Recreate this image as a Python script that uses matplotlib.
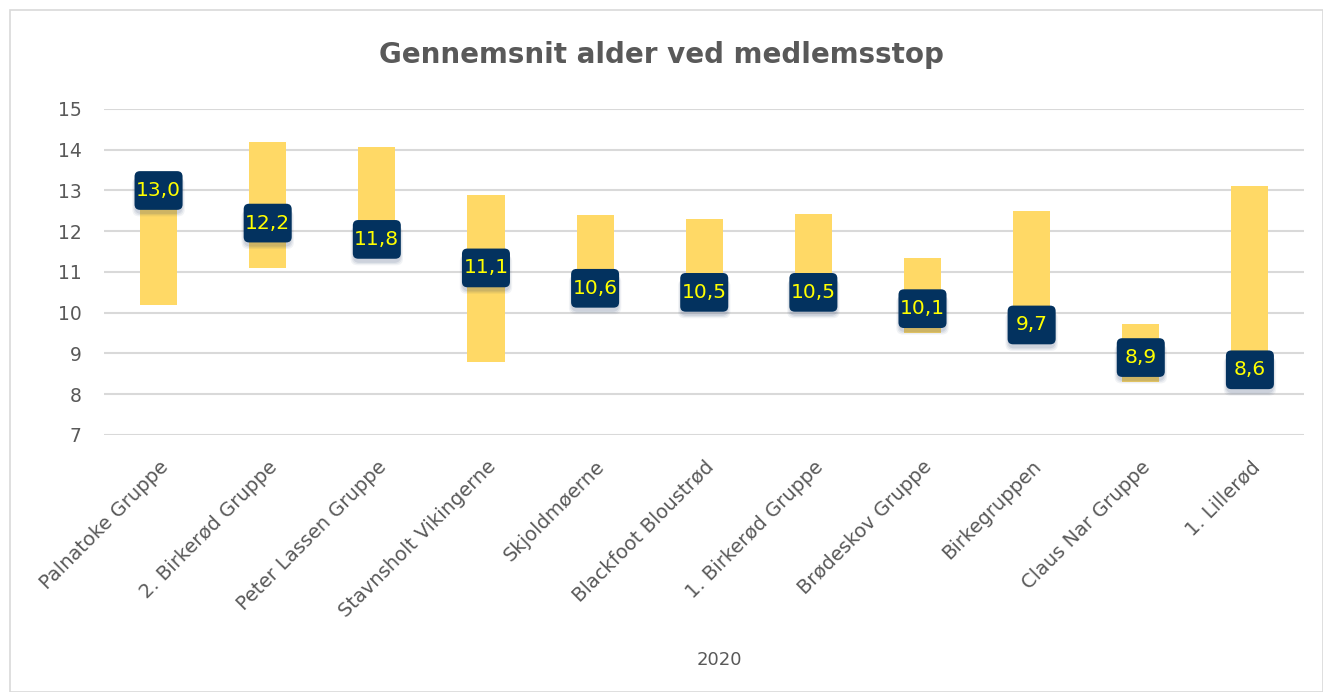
import matplotlib.pyplot as plt
from matplotlib.patches import FancyBboxPatch, Rectangle

groups = ['Palnatoke Gruppe', '2. Birkerød Gruppe', 'Peter Lassen Gruppe', 'Stavnsholt Vikingerne',
          'Skjoldmøerne', 'Blackfoot Bloustrød', '1. Birkerød Gruppe', 'Brødeskov Gruppe',
          'Birkegruppen', 'Claus Nar Gruppe', '1. Lillerød']
mean_age = [13.0, 12.2, 11.8, 11.1, 10.6, 10.5, 10.5, 10.1, 9.7, 8.9, 8.6]
low_age = [10.2, 11.1, 11.4, 8.8, 10.2, 10.1, 10.1, 9.5, 9.3, 8.3, 8.3]
high_age = [13.2, 14.2, 14.06, 12.9, 12.4, 12.3, 12.42, 11.35, 12.5, 9.72, 13.1]

grey = '#595959'
fig = plt.figure(figsize=(13.23, 6.92), dpi=100)
ax = fig.add_axes([0.0786, 0.3714, 0.9074, 0.4711])

x = range(len(groups))
heights = [h - l for h, l in zip(high_age, low_age)]
ax.bar(x, heights, bottom=low_age, width=0.34, color='#FFD966', zorder=2)

ax.set_xlim(-0.5, len(groups) - 0.5)
ax.set_ylim(7, 15)
ax.set_yticks(range(7, 16))
ax.grid(axis='y', color='#D9D9D9', linewidth=1.5, zorder=0)
for s in ax.spines.values():
    s.set_visible(False)
ax.tick_params(length=0, colors=grey, labelsize=13.5)
ax.tick_params(axis='y', pad=16)
ax.tick_params(axis='x', pad=16)
ax.set_xticks(list(x))
ax.set_xticklabels(groups, rotation=45, ha='right', rotation_mode='anchor', fontsize=14)

# label boxes
bw, bh = 0.44, 0.95
asp = (1 / 40.66) / (1 / 109.2)
for i, m in enumerate(mean_age):
    for k, a in enumerate([0.10, 0.08, 0.06]):
        sh = FancyBboxPatch((i - bw / 2 - 0.01 * k, m - bh / 2 - 0.1 - 0.03 * k), bw + 0.02 * k, bh,
                            boxstyle='round,pad=0,rounding_size=0.06', mutation_aspect=asp,
                            facecolor='#1F3864', edgecolor='none', alpha=a, zorder=3)
        ax.add_patch(sh)
    box = FancyBboxPatch((i - bw / 2, m - bh / 2), bw, bh,
                         boxstyle='round,pad=0,rounding_size=0.05', mutation_aspect=asp,
                         facecolor='#03325F', edgecolor='none', zorder=4)
    ax.add_patch(box)
    ax.text(i, m, f'{m:.1f}'.replace('.', ','), ha='center', va='center', color='#FFFF00',
            fontsize=14.5, zorder=5)

fig.text(0.5, 0.92, 'Gennemsnit alder ved medlemsstop', ha='center', va='center',
         fontsize=20, fontweight='bold', color=grey)
fig.text(719 / 1323, 1 - 660 / 692, '2020', ha='center', va='center', fontsize=13, color=grey)
fig.patches.append(Rectangle((10 / 1323, 0), 1 - 10 / 1323, 1 - 10 / 692, transform=fig.transFigure,
                             fill=False, edgecolor='#D9D9D9', linewidth=1.2))

fig.savefig('out.png', dpi=100)
